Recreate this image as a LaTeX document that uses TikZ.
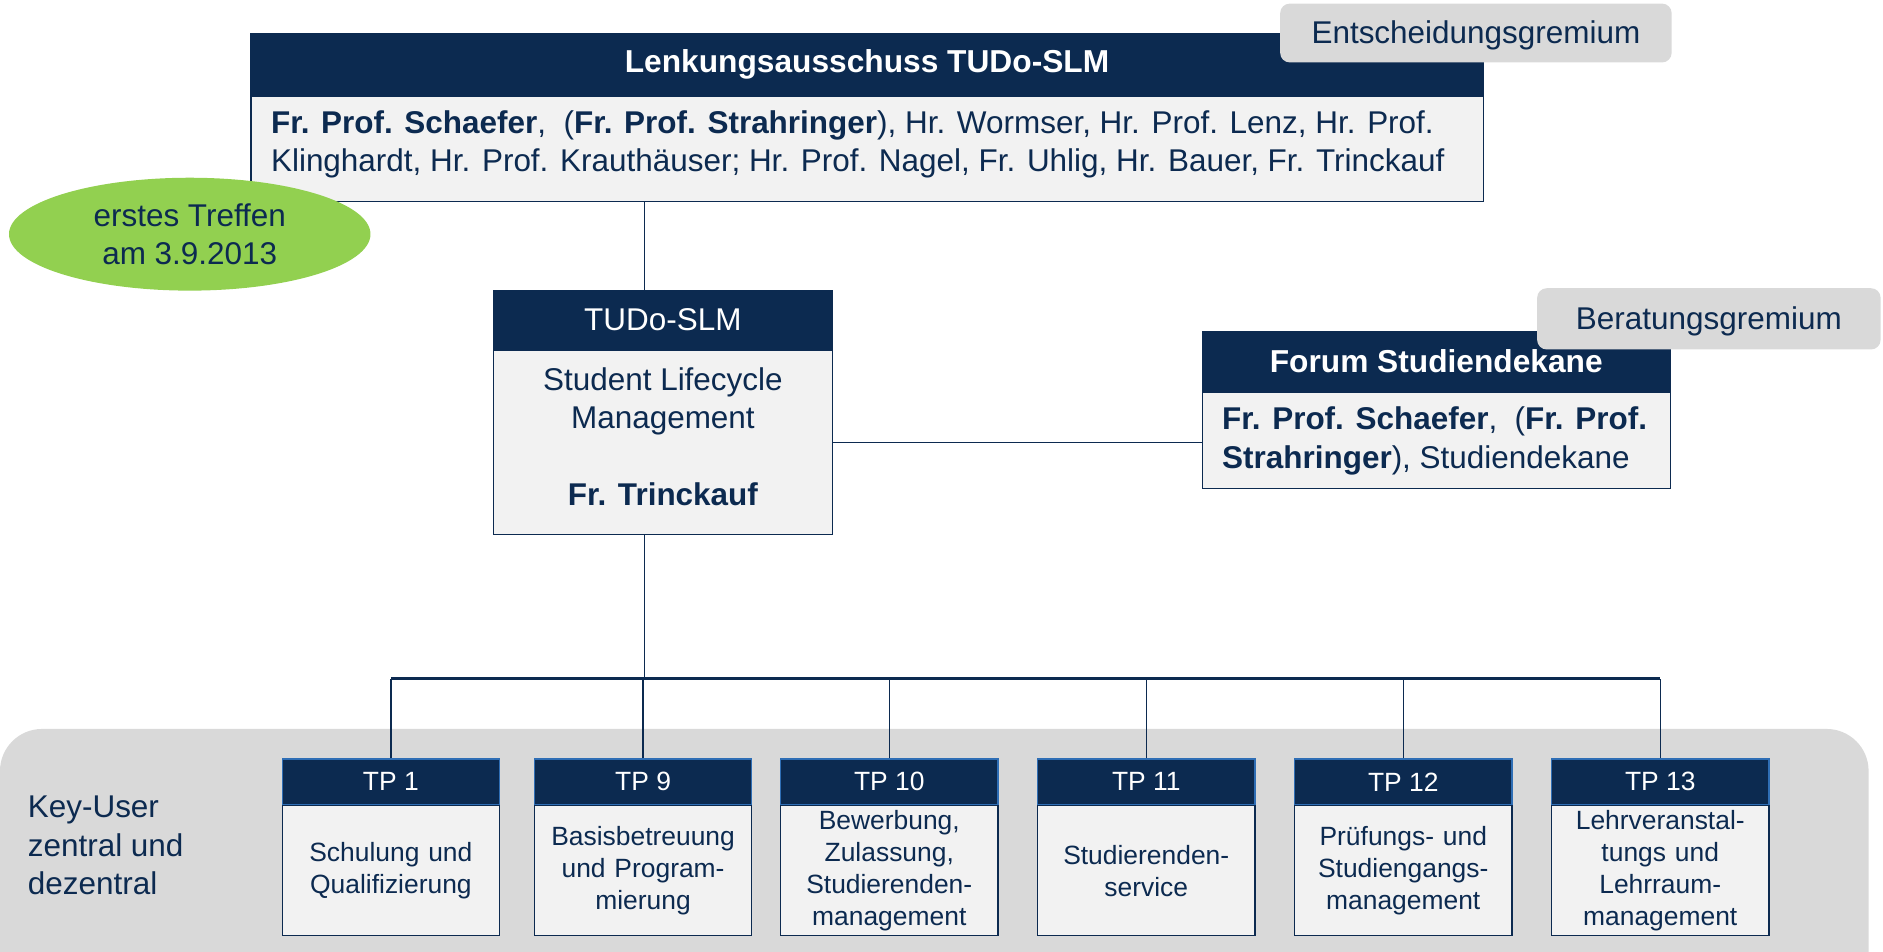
\documentclass[tikz,border=0pt]{standalone}
\usepackage{fontspec}
\setmainfont{Liberation Sans}
\usetikzlibrary{shapes.geometric,calc}
\definecolor{navy}{HTML}{0C2A50}
\definecolor{tpedge}{HTML}{2F6EB5}
\definecolor{tagcol}{HTML}{D9D9D9}
\definecolor{bodycol}{HTML}{F2F2F2}
\definecolor{greencol}{HTML}{92D050}
\begin{document}
\begin{tikzpicture}[x=1pt,y=-1pt,
  big/.style={font=\fontsize{26.2}{32}\selectfont},
  bigbold/.style={font=\fontsize{26.4}{32}\selectfont\bfseries},
  small/.style={font=\fontsize{22}{26.5}\selectfont},
  hdr/.style={draw=navy, fill=navy, text=white, inner sep=0pt, line width=1pt},
  bodyb/.style={draw=navy, fill=bodycol, text=navy, inner sep=0pt, line width=1pt},
  tag/.style={fill=tagcol, text=navy, rounded corners=8pt, inner sep=0pt, big},
  txt/.style={text=navy, inner sep=0pt},
  link/.style={draw=navy, line width=1.2pt},
  buslink/.style={draw=navy, line width=2.2pt},
  tphdr/.style={hdr, draw=tpedge, small, minimum width=181pt, minimum height=38pt},
  tpbody/.style={bodyb, small, minimum width=181pt, minimum height=108pt, text width=176pt, align=center, anchor=north},
]
\useasboundingbox (0,0) rectangle (1568,792);
% key-user band
\path[fill=tagcol, rounded corners=35pt] (0,607) rectangle (1556,850);

% Lenkungsausschuss
\node[hdr, bigbold, minimum width=1026pt, minimum height=51pt] (lh) at (722,53.5) {Lenkungsausschuss TUDo-SLM};
\node[bodyb, minimum width=1026pt, minimum height=88pt, anchor=north] (lb) at (lh.south) {};
\node[txt, big, align=left, anchor=west] (lbt) at ([xshift=17pt,yshift=4pt]lb.west)
  {\textbf{Fr. Prof. Schaefer},\ \ (\textbf{Fr. Prof. Strahringer}), Hr. Wormser, Hr. Prof. Lenz, Hr. Prof.\\
   Klinghardt, Hr. Prof. Krauthäuser; Hr. Prof. Nagel, Fr. Uhlig, Hr. Bauer, Fr. Trinckauf};
\node[tag, minimum width=326pt, minimum height=49pt, text depth=2pt] (etag) at (1229,27.5) {Entscheidungsgremium};

% ellipse
\node[ellipse, fill=greencol, text=navy, big, minimum width=301pt, minimum height=94pt, align=center, inner sep=0pt] (meet) at (158,195) {erstes Treffen\\am 3.9.2013};

% TUDo-SLM
\node[hdr, big, minimum width=282pt, minimum height=49pt] (th) at (552,266.5) {TUDo-SLM};
\node[bodyb, minimum width=282pt, minimum height=153pt, anchor=north] (tb) at (th.south) {};
\node[txt, big, align=center] (tbt) at ([yshift=5pt]tb.center)
  {Student Lifecycle\\Management\\[32pt]\textbf{Fr. Trinckauf}};

% Forum Studiendekane
\node[hdr, bigbold, minimum width=390pt, minimum height=50pt] (fh) at (1196,301) {Forum Studiendekane};
\node[bodyb, minimum width=390pt, minimum height=80pt, anchor=north] (fb) at (fh.south) {};
\node[txt, big, align=left, anchor=west] (fbt) at ([xshift=17pt]fb.west)
  {\textbf{Fr. Prof. Schaefer},\ \ (\textbf{Fr. Prof.}\\\textbf{Strahringer}), Studiendekane};
\node[tag, minimum width=286pt, minimum height=51pt, text depth=2pt] (btag) at (1423,265.5) {Beratungsgremium};

% Key-User
\node[txt, big, align=left, anchor=west] (ku) at (23,704) {Key-User\\zentral und\\dezentral};

% TP boxes
\node[tphdr] (tp1h) at (325.5,651) {TP 1};
\node[tpbody] (tp1b) at (tp1h.south) {Schulung und\\Qualifizierung};
\node[tphdr] (tp9h) at (535.5,651) {TP 9};
\node[tpbody] (tp9b) at (tp9h.south) {Basisbetreuung\\und Program-\\mierung};
\node[tphdr] (tp10h) at (740.5,651) {TP 10};
\node[tpbody] (tp10b) at (tp10h.south) {Bewerbung,\\Zulassung,\\Studierenden-\\management};
\node[tphdr] (tp11h) at (954.5,651) {TP 11};
\node[tpbody] (tp11b) at (tp11h.south) {Studierenden-\\service};
\node[tphdr] (tp12h) at (1168.5,651) {TP 12};
\node[tpbody] (tp12b) at (tp12h.south) {Prüfungs- und\\Studiengangs-\\management};
\node[tphdr] (tp13h) at (1382.5,651) {TP 13};
\node[tpbody] (tp13b) at (tp13h.south) {Lehrveranstal-\\tungs und\\Lehrraum-\\management};

% connectors
\coordinate (bus) at (0,565);
\coordinate (tdrop) at ([xshift=126pt]th.north west);
\draw[link] (tdrop) -- (tdrop |- lb.south);
\coordinate (tdropb) at ([xshift=126pt]tb.south west);
\draw[link] (tdropb) -- (tdropb |- bus);
\draw[link] (tb.east) -- (tb.east -| fb.west);
\draw[buslink] (tp1h.north |- bus) -- (tp13h.north |- bus);
\foreach \t in {tp1h,tp9h,tp10h,tp11h,tp12h,tp13h}
  \draw[link] (\t.north) -- (\t.north |- bus);
\end{tikzpicture}
\end{document}
